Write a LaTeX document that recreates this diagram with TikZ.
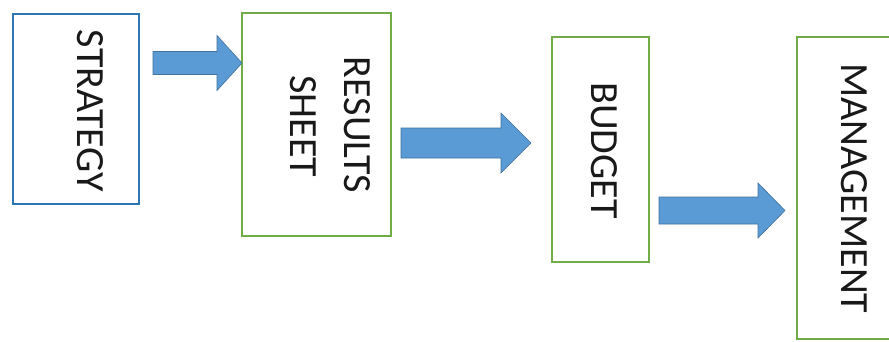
\documentclass[tikz,border=0pt]{standalone}
\usepackage{fontspec}
\setmainfont{Carlito}
\definecolor{boxblue}{HTML}{2E75B6}
\definecolor{boxgreen}{HTML}{70AD47}
\definecolor{arrfill}{HTML}{5B9BD5}
\definecolor{arredge}{HTML}{41719C}
\tikzset{
  stage/.style={draw=boxgreen, line width=1.6pt, fill=white},
  firststage/.style={stage, draw=boxblue},
  label/.style={rotate=-90, anchor=base, inner sep=0pt, font=\fontsize{40}{40}\selectfont, text=black!90},
  blockarrow/.style={fill=arrfill, draw=arredge, line width=0.6pt, line join=miter},
}
% block arrow: #1 shaft start x, #2 head base x, #3 tip x, #4 centre y, #5 half shaft, #6 half head
\newcommand\blockarrow[6]{%
  \draw[blockarrow] (#1pt,-#4pt+#5pt) -- (#2pt,-#4pt+#5pt) -- (#2pt,-#4pt+#6pt)
    -- (#3pt,-#4pt) -- (#2pt,-#4pt-#6pt) -- (#2pt,-#4pt-#5pt) -- (#1pt,-#4pt-#5pt) -- cycle;}
\begin{document}
\begin{tikzpicture}[x=1pt,y=1pt]
  \fill[white] (0,0) rectangle (889,-341);
  \useasboundingbox (0,0) rectangle (889,-341);
  \begin{scope}
    \clip (0,0) rectangle (889,-341);
    % stage boxes
    \draw[firststage] (13,-14) rectangle (139,-204);
    \draw[stage] (242,-13) rectangle (391,-236);
    \draw[stage] (552,-37) rectangle (649,-262);
    \draw[stage] (797,-37) rectangle (915,-339);
    % labels, rotated to read downwards
    \node[label] (strategy) at (77,-111) {STRATEGY};
    \node[label] (results) at (344,-125) {RESULTS};
    \node[label] (sheet) at (290,-126.5) {SHEET};
    \node[label] (budget) at (591,-150.5) {BUDGET};
    \node[label] (management) at (841,-188.5) {MANAGEMENT};
    % arrows between stages
    \blockarrow{153}{217}{242}{63}{11.5}{27.5}
    \blockarrow{401}{501}{531}{143}{15}{30}
    \blockarrow{659}{758}{785}{210.5}{13.5}{27.5}
  \end{scope}
\end{tikzpicture}
\end{document}
